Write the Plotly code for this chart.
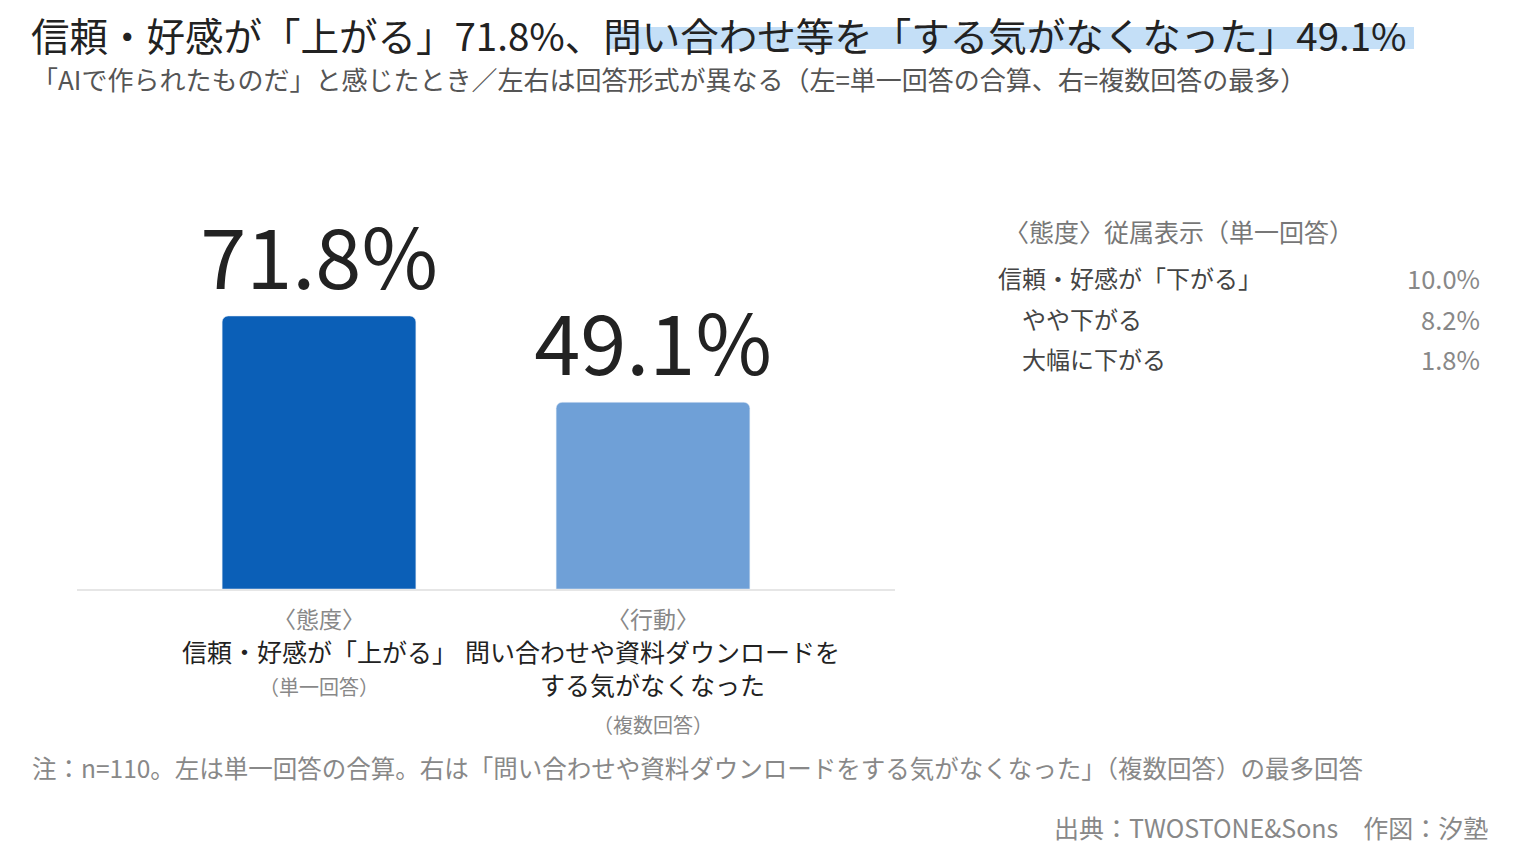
import plotly.graph_objects as go

# 主グラフのデータ
categories = ["態度", "行動"]
values = [71.8, 49.1]
bar_colors = ["#0b5fb7", "#6fa0d7"]
cat_heads = ["〈態度〉", "〈行動〉"]
cat_labels = ["信頼・好感が「上がる」", "問い合わせや資料ダウンロードを<br>する気がなくなった"]
cat_notes = ["（単一回答）", "（複数回答）"]

# 右側の従属表示
side_title = "〈態度〉従属表示（単一回答）"
side_labels = ["信頼・好感が「下がる」", "やや下がる", "大幅に下がる"]
side_values = [10.0, 8.2, 1.8]

title_a = "信頼・好感が「上がる」71.8%、"
title_b = "問い合わせ等を「する気がなくなった」49.1%"
subtitle = "「AIで作られたものだ」と感じたとき／左右は回答形式が異なる（左=単一回答の合算、右=複数回答の最多）"
note = "注：n=110。左は単一回答の合算。右は「問い合わせや資料ダウンロードをする気がなくなった」（複数回答）の最多回答"
source = "出典：TWOSTONE&Sons　作図：汐塾"

W, H = 1520, 855
OFF = 8  # ページ余白の分
FONT = "Noto Sans CJK JP"


def px(x):
    return (x - OFF) / W


def py(y):
    return 1 - (y - OFF) / H


fig = go.Figure()

fig.add_trace(go.Bar(
    x=list(range(len(categories))),
    y=values,
    width=0.58,
    marker=dict(color=bar_colors, cornerradius=6),
    text=[f"{v:.1f}%" for v in values],
    textposition="outside",
    constraintext="none",
    cliponaxis=False,
    textfont=dict(size=83, color="#222222", family=FONT),
    hoverinfo="skip",
))

annotations = []

# タイトル
annotations.append(dict(
    x=px(30), y=py(34), xref="paper", yref="paper", xanchor="left", yanchor="middle",
    text=title_a + title_b, showarrow=False, borderpad=0,
    font=dict(size=38.5, color="#222222", family=FONT),
))
annotations.append(dict(
    x=px(30), y=py(78), xref="paper", yref="paper", xanchor="left", yanchor="middle",
    text=subtitle, showarrow=False,
    font=dict(size=26, color="#555555", family=FONT),
))

# カテゴリラベル
for i in range(len(categories)):
    annotations.append(dict(
        x=i, y=py(618), xref="x", yref="paper", xanchor="center", yanchor="middle",
        text=cat_heads[i], showarrow=False,
        font=dict(size=23, color="#888888", family=FONT),
    ))
    annotations.append(dict(
        x=i, y=py(631), xref="x", yref="paper", xanchor="center", yanchor="top",
        text=cat_labels[i], showarrow=False,
        font=dict(size=25, color="#222222", family=FONT),
    ))
annotations.append(dict(
    x=0, y=py(686), xref="x", yref="paper", xanchor="center", yanchor="middle",
    text=cat_notes[0], showarrow=False,
    font=dict(size=20, color="#888888", family=FONT),
))
annotations.append(dict(
    x=1, y=py(724), xref="x", yref="paper", xanchor="center", yanchor="middle",
    text=cat_notes[1], showarrow=False,
    font=dict(size=20, color="#888888", family=FONT),
))

# 右側の従属表示
annotations.append(dict(
    x=px(1002), y=py(231), xref="paper", yref="paper", xanchor="left", yanchor="middle",
    text=side_title, showarrow=False,
    font=dict(size=25, color="#777777", family=FONT),
))
side_y = [277, 318, 359]
side_x = [996, 1020, 1020]
for lab, val, yy, xx in zip(side_labels, side_values, side_y, side_x):
    annotations.append(dict(
        x=px(xx), y=py(yy), xref="paper", yref="paper", xanchor="left", yanchor="middle",
        text=lab, showarrow=False,
        font=dict(size=24, color="#444444", family=FONT),
    ))
    annotations.append(dict(
        x=px(1482), y=py(yy), xref="paper", yref="paper", xanchor="right", yanchor="middle",
        text=f"{val:.1f}%", showarrow=False,
        font=dict(size=25.5, color="#888888", family=FONT),
    ))

# 注記・出典
annotations.append(dict(
    x=px(30), y=py(767), xref="paper", yref="paper", xanchor="left", yanchor="middle",
    text=note, showarrow=False,
    font=dict(size=24.5, color="#888888", family=FONT),
))
annotations.append(dict(
    x=px(1490), y=py(827), xref="paper", yref="paper", xanchor="right", yanchor="middle",
    text=source, showarrow=False,
    font=dict(size=25, color="#888888", family=FONT),
))

shapes = [
    # タイトル後半のハイライト
    dict(type="rect", xref="paper", yref="paper",
         x0=px(607), x1=px(1414), y0=py(49), y1=py(27),
         fillcolor="#c4dff7", line=dict(width=0), layer="below"),
]

y_bottom = 589
unit_px = 273 / 71.8
fig.update_layout(
    width=W, height=H,
    margin=dict(l=0, r=0, t=0, b=0),
    paper_bgcolor="white", plot_bgcolor="white",
    showlegend=False,
    xaxis=dict(
        domain=[px(77), px(895)],
        range=[-0.7246, 1.7246],
        showticklabels=False, showgrid=False, zeroline=False,
        showline=True, linecolor="#e6e6e6", linewidth=2, fixedrange=True,
    ),
    yaxis=dict(
        domain=[py(y_bottom), py(y_bottom - 100 * unit_px)],
        range=[0, 100],
        visible=False, fixedrange=True,
    ),
    annotations=annotations,
    shapes=shapes,
    font=dict(family=FONT),
)

fig.write_html("out.html")
